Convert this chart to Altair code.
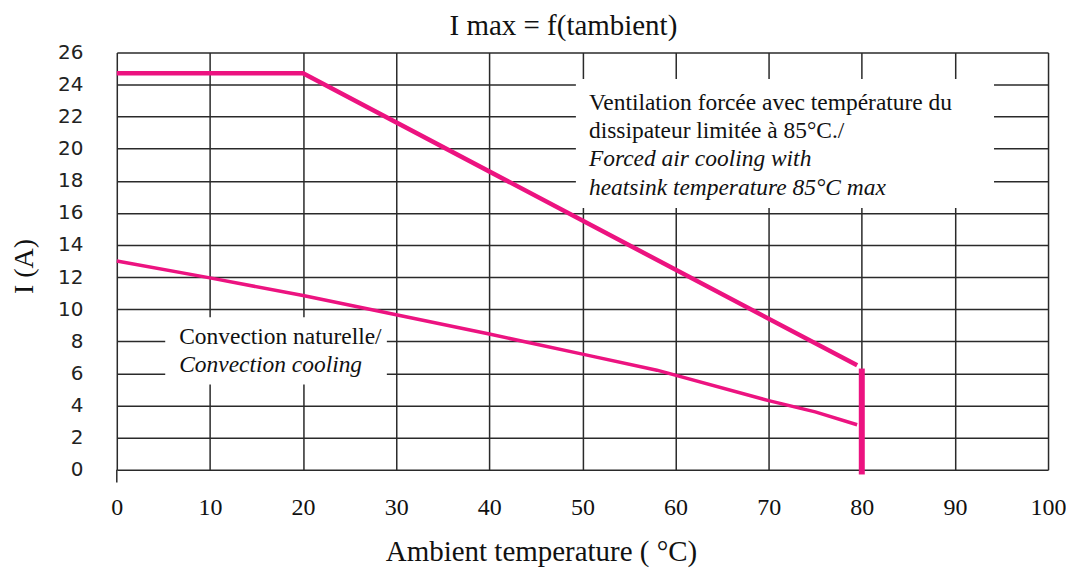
import altair as alt
import pandas as pd

# ---- data ----
forced_temp = [0, 20, 79.5]
forced_i = [24.7, 24.7, 6.5]

conv_temp = [0, 10, 20, 30, 40, 50, 58, 70, 75, 79.5]
conv_i = [13.0, 11.95, 10.85, 9.65, 8.45, 7.2, 6.2, 4.3, 3.6, 2.8]

limit_temp = [80]
limit_i_low = [-0.3]
limit_i_high = [6.3]

x_ticks = list(range(0, 101, 10))
y_ticks = list(range(0, 27, 2))

title_text = "I max = f(tambient)"
x_title = "Ambient temperature ( °C)"
y_title = "I (A)"

forced_lines = ["Ventilation forcée avec température du",
                "dissipateur limitée à 85°C./",
                "Forced air cooling with",
                "heatsink temperature 85°C max"]
forced_styles = ["normal", "normal", "italic", "italic"]
conv_lines = ["Convection naturelle/", "Convection cooling"]
conv_styles = ["normal", "italic"]

# ---- layout (data units) ----
forced_box = dict(x=49.3, x2=94.2, y=16.3, y2=24.35)
conv_box = dict(x=5.2, x2=29.0, y=5.3, y2=9.5)
forced_text_x = 50.7
forced_text_y = [22.86, 21.12, 19.38, 17.58]
conv_text_x = 6.7
conv_text_y = [8.26, 6.52]

PINK = "#EC1380"
GRID = "#2a2a2a"
SERIF = "Liberation Serif"

df_forced = pd.DataFrame({"t": forced_temp, "i": forced_i})
df_conv = pd.DataFrame({"t": conv_temp, "i": conv_i})
df_limit = pd.DataFrame({"t": limit_temp, "lo": limit_i_low, "hi": limit_i_high})
df_boxes = pd.DataFrame([forced_box, conv_box])
df_text = pd.DataFrame({
    "x": [forced_text_x] * len(forced_lines) + [conv_text_x] * len(conv_lines),
    "y": forced_text_y + conv_text_y,
    "label": forced_lines + conv_lines,
    "style": forced_styles + conv_styles,
})
df_stub = pd.DataFrame({"t": [0], "lo": [0], "hi": [-0.8]})

xscale = alt.Scale(domain=[0, 100], nice=False)
yscale = alt.Scale(domain=[0, 26], nice=False)

xaxis = alt.Axis(values=x_ticks, grid=True, gridColor=GRID, gridWidth=1.5, gridOpacity=1,
                 domain=False, ticks=False, labelFont=SERIF, labelFontSize=24,
                 labelColor="#111", labelPadding=26, labelFlush=False, labelOverlap=False,
                 title=x_title, titleFont=SERIF,
                 titleFontSize=29, titleFontWeight="normal", titleColor="#111",
                 titleX=425, titleY=91, titleBaseline="alphabetic", titleAlign="center")
yaxis = alt.Axis(values=y_ticks, grid=True, gridColor=GRID, gridWidth=1.5, gridOpacity=1,
                 domain=False, ticks=False, labelFont="DejaVu Sans", labelFontSize=20,
                 labelColor="#222", labelPadding=34, labelFlush=False, labelOverlap=False,
                 labelBound=False,
                 title=y_title, titleFont=SERIF,
                 titleFontSize=28, titleFontWeight="normal", titleColor="#111",
                 titleX=-92, titleY=214, titleAngle=-90, titleBaseline="middle",
                 titleAlign="center")

X = lambda f: alt.X(f, scale=xscale, axis=xaxis)
Y = lambda f: alt.Y(f, scale=yscale, axis=yaxis)

base_axes = alt.Chart(df_forced).mark_point(opacity=0).encode(
    x=X("t:Q"), y=Y("i:Q"),
)

boxes = alt.Chart(df_boxes).mark_rect(fill="white", stroke=None).encode(
    x=X("x:Q"), x2="x2:Q", y=Y("y:Q"), y2="y2:Q",
)

stub = alt.Chart(df_stub).mark_rule(color=GRID, strokeWidth=1.5).encode(
    x=X("t:Q"), y=Y("lo:Q"), y2="hi:Q"
)

forced = alt.Chart(df_forced).mark_line(color=PINK, strokeWidth=4.5).encode(
    x=X("t:Q"), y=Y("i:Q"), order="t:Q"
)
conv = alt.Chart(df_conv).mark_line(color=PINK, strokeWidth=3.5).encode(
    x=X("t:Q"), y=Y("i:Q"), order="t:Q"
)
limit = alt.Chart(df_limit).mark_rule(color=PINK, strokeWidth=6, strokeCap="butt").encode(
    x=X("t:Q"), y=Y("lo:Q"), y2="hi:Q"
)

def text_layer(style):
    return alt.Chart(df_text).transform_filter(alt.datum.style == style).mark_text(
        align="left", baseline="middle", font=SERIF, fontSize=23.5, fontStyle=style,
        color="#111"
    ).encode(
        x=X("x:Q"), y=Y("y:Q"), text="label:N"
    )

chart = alt.layer(
    base_axes, boxes, stub, forced, conv, limit, text_layer("normal"), text_layer("italic")
).properties(
    width=933, height=418,
    autosize=alt.AutoSizeParams(type="none"),
    padding={"left": 109, "top": 44, "right": 18, "bottom": 98},
    title=alt.TitleParams(title_text, font=SERIF, fontSize=29, fontWeight="normal",
                          color="#111", anchor="middle", dx=-19, dy=44, baseline="bottom",
                          offset=16, frame="group"),
).configure_view(stroke=None)

chart.save("out.html", embed_options={"renderer": "svg", "actions": False})
